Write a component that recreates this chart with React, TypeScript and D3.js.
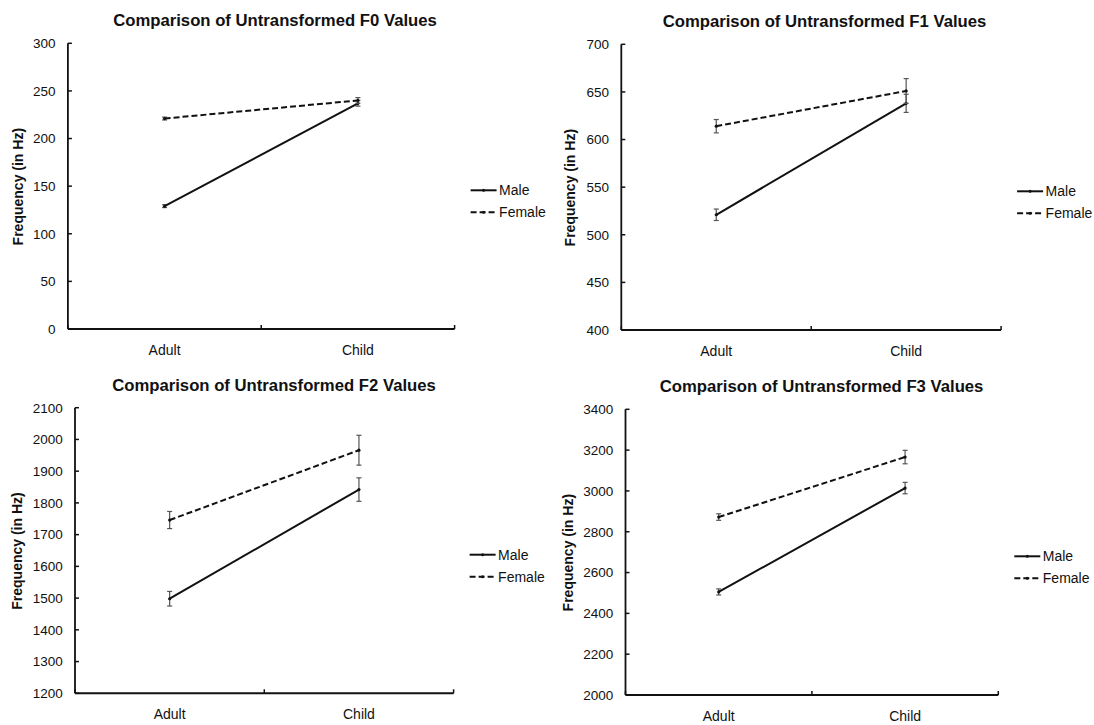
import React from "react";
import * as d3 from "d3";

// Categories and series
const categories = ["Adult", "Child"];
const seriesNames = ["Male", "Female"];

// Mean formant frequencies (Hz), Adult then Child
const f0Male = [129, 237];
const f0Female = [221, 240];
const f1Male = [521, 638];
const f1Female = [614, 651];
const f2Male = [1498, 1842];
const f2Female = [1746, 1966];
const f3Male = [2505, 3014];
const f3Female = [2872, 3166];

// Error-bar half widths (Hz)
const f0MaleErr = [1.5, 3];
const f0FemaleErr = [1.5, 3];
const f1MaleErr = [6, 9.5];
const f1FemaleErr = [7, 13];
const f2MaleErr = [23, 37];
const f2FemaleErr = [27, 47];
const f3MaleErr = [15, 28];
const f3FemaleErr = [16, 33];

// Y-axis ticks
const f0Ticks = [0, 50, 100, 150, 200, 250, 300];
const f1Ticks = [400, 450, 500, 550, 600, 650, 700];
const f2Ticks = [1200, 1300, 1400, 1500, 1600, 1700, 1800, 1900, 2000, 2100];
const f3Ticks = [2000, 2200, 2400, 2600, 2800, 3000, 3200, 3400];

const titles = [
  "Comparison of Untransformed F0 Values",
  "Comparison of Untransformed F1 Values",
  "Comparison of Untransformed F2 Values",
  "Comparison of Untransformed F3 Values",
];

const yLabel = "Frequency (in Hz)";

type Panel = {
  title: string;
  male: number[];
  female: number[];
  maleErr: number[];
  femaleErr: number[];
  ticks: number[];
  box: { left: number; right: number; top: number; bottom: number };
  labelX: number;
  titleX: number;
};

const panels: Panel[] = [
  {
    title: titles[0],
    male: f0Male,
    female: f0Female,
    maleErr: f0MaleErr,
    femaleErr: f0FemaleErr,
    ticks: f0Ticks,
    box: { left: 67.9, right: 454.6, top: 43.3, bottom: 329 },
    labelX: 17.9,
    titleX: 275,
  },
  {
    title: titles[1],
    male: f1Male,
    female: f1Female,
    maleErr: f1MaleErr,
    femaleErr: f1FemaleErr,
    ticks: f1Ticks,
    box: { left: 621.3, right: 1001.1, top: 44.3, bottom: 330 },
    labelX: 570,
    titleX: 824.5,
  },
  {
    title: titles[2],
    male: f2Male,
    female: f2Female,
    maleErr: f2MaleErr,
    femaleErr: f2FemaleErr,
    ticks: f2Ticks,
    box: { left: 75, right: 453.6, top: 407.7, bottom: 693.3 },
    labelX: 17.1,
    titleX: 274,
  },
  {
    title: titles[3],
    male: f3Male,
    female: f3Female,
    maleErr: f3MaleErr,
    femaleErr: f3FemaleErr,
    ticks: f3Ticks,
    box: { left: 625.5, right: 998.3, top: 409.3, bottom: 695 },
    labelX: 568.3,
    titleX: 821.6,
  },
];

const FONT = "'Liberation Sans', Arial, Helvetica, sans-serif";
const INK = "#111";

function ChartPanel({ p }: { p: Panel }) {
  const { left, right, top, bottom } = p.box;
  const x = d3
    .scaleBand<string>()
    .domain(categories)
    .range([left, right])
    .paddingInner(0)
    .paddingOuter(0);
  const cx = (c: string) => (x(c) as number) + x.bandwidth() / 2;
  const y = d3
    .scaleLinear()
    .domain([p.ticks[0], p.ticks[p.ticks.length - 1]])
    .range([bottom, top]);

  const line = d3
    .line<number>()
    .x((_, i) => cx(categories[i]))
    .y((v) => y(v));

  const series = [
    { name: seriesNames[0], values: p.male, err: p.maleErr, dash: undefined as string | undefined },
    { name: seriesNames[1], values: p.female, err: p.femaleErr, dash: "6,3" },
  ];

  const legendX = right + 16;
  const legendY = top + 147;

  // category boundary ticks on the x axis
  const boundaries = [left, ...categories.map((c) => (x(c) as number) + x.bandwidth())];

  return (
    <g>
      <text
        x={p.titleX}
        y={top - 17}
        textAnchor="middle"
        fontFamily={FONT}
        fontWeight="bold"
        fontSize={16.7}
        fill={INK}
      >
        {p.title}
      </text>

      <text
        transform={`translate(${p.labelX},${(top + bottom) / 2 + 0.5}) rotate(-90)`}
        textAnchor="middle"
        dominantBaseline="central"
        fontFamily={FONT}
        fontWeight="bold"
        fontSize={14}
        fill={INK}
      >
        {yLabel}
      </text>

      {/* y axis */}
      <line x1={left} x2={left} y1={top} y2={bottom} stroke={INK} strokeWidth={1.8} />
      {p.ticks.map((t) => (
        <g key={t}>
          <line x1={left} x2={left + 4} y1={y(t)} y2={y(t)} stroke={INK} strokeWidth={1.5} />
          <text
            x={left - 12.3}
            y={y(t)}
            dy="0.36em"
            textAnchor="end"
            fontFamily={FONT}
            fontSize={13.5}
            fill={INK}
          >
            {t}
          </text>
        </g>
      ))}

      {/* x axis */}
      <line x1={left} x2={right} y1={bottom} y2={bottom} stroke={INK} strokeWidth={2} />
      {boundaries.map((b, i) => (
        <line key={i} x1={b} x2={b} y1={bottom} y2={bottom - 4} stroke={INK} strokeWidth={1.5} />
      ))}
      {categories.map((c) => (
        <text
          key={c}
          x={cx(c)}
          y={bottom + 26}
          textAnchor="middle"
          fontFamily={FONT}
          fontSize={14}
          fill={INK}
        >
          {c}
        </text>
      ))}

      {/* series */}
      {series.map((s) => (
        <g key={s.name}>
          {s.values.map((v, i) => {
            const px = cx(categories[i]);
            const y1 = y(v + s.err[i]);
            const y2 = y(v - s.err[i]);
            return (
              <g key={i} stroke="#555" strokeWidth={1.2}>
                <line x1={px} x2={px} y1={y1} y2={y2} />
                <line x1={px - 2.5} x2={px + 2.5} y1={y1} y2={y1} />
                <line x1={px - 2.5} x2={px + 2.5} y1={y2} y2={y2} />
              </g>
            );
          })}
          <path
            d={line(s.values) || ""}
            fill="none"
            stroke={INK}
            strokeWidth={2}
            strokeDasharray={s.dash}
          />
          {s.values.map((v, i) => (
            <circle key={i} cx={cx(categories[i])} cy={y(v)} r={1.6} fill={INK} />
          ))}
        </g>
      ))}

      {/* legend */}
      {series.map((s, i) => {
        const ly = legendY + i * 22;
        return (
          <g key={s.name}>
            <line
              x1={legendX}
              x2={legendX + 26}
              y1={ly}
              y2={ly}
              stroke={INK}
              strokeWidth={2}
              strokeDasharray={s.dash}
            />
            <circle cx={legendX + 13} cy={ly} r={1.5} fill={INK} />
            <text
              x={legendX + 28.5}
              y={ly}
              dy="0.36em"
              fontFamily={FONT}
              fontSize={14}
              fill={INK}
            >
              {s.name}
            </text>
          </g>
        );
      })}
    </g>
  );
}

export default function App() {
  return (
    <svg
      width={1094}
      height={725}
      style={{ position: "absolute", left: 0, top: 0, background: "#fff" }}
    >
      <rect width={1094} height={725} fill="#fff" />
      {panels.map((p, i) => (
        <ChartPanel key={i} p={p} />
      ))}
    </svg>
  );
}
